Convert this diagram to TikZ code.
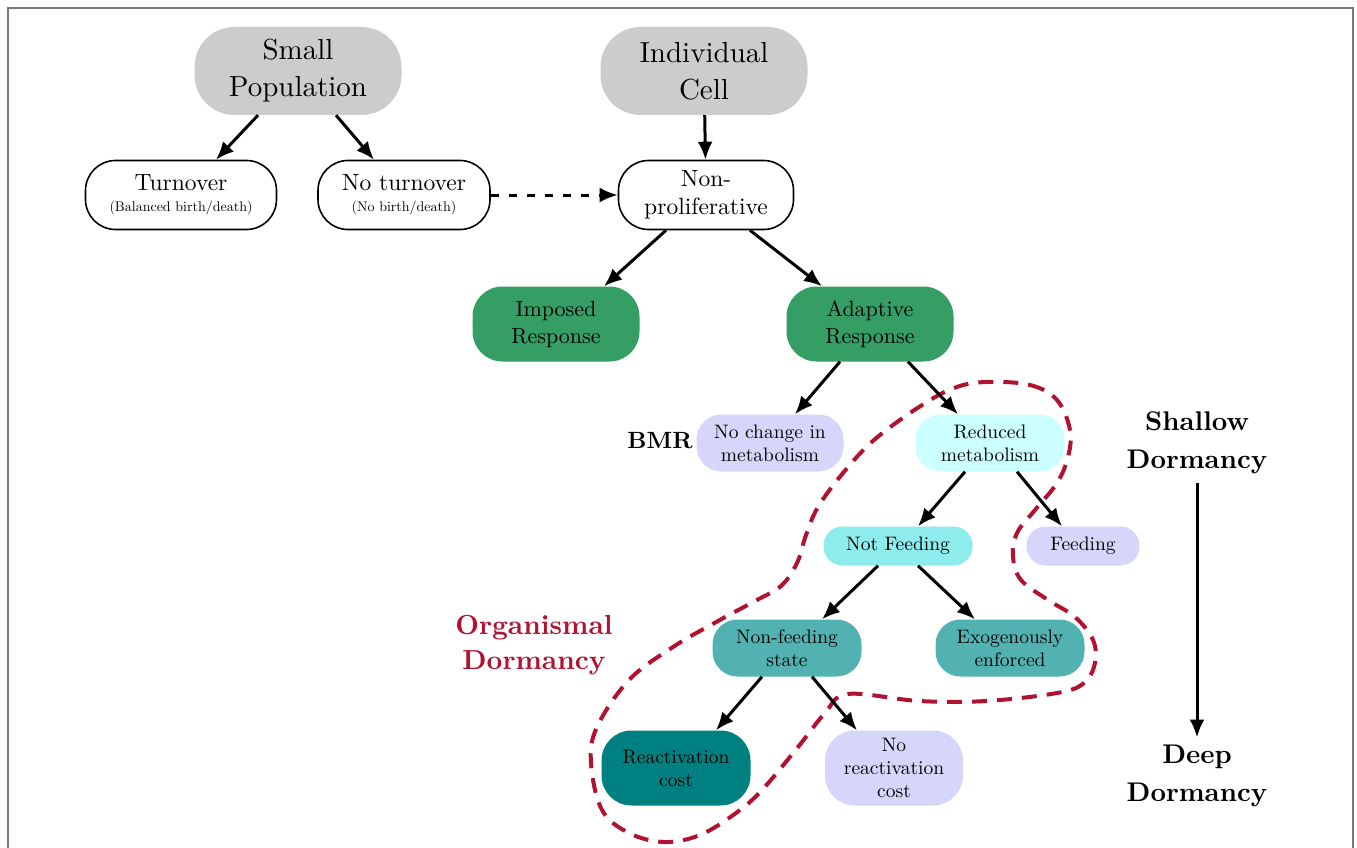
\documentclass[tikz,border=0pt]{standalone}
\usepackage{fontspec}
\setmainfont{lmroman10-regular}[Extension=.otf,BoldFont=lmroman10-bold]
\usetikzlibrary{arrows.meta}
\definecolor{popgrey}{RGB}{204,204,204}
\definecolor{respgreen}{RGB}{52,158,101}
\definecolor{lavender}{RGB}{214,214,250}
\definecolor{paleaqua}{RGB}{204,255,255}
\definecolor{aqua}{RGB}{142,236,236}
\definecolor{midteal}{RGB}{82,178,178}
\definecolor{darkteal}{RGB}{0,128,128}
\definecolor{dormred}{RGB}{176,18,48}
\definecolor{framegrey}{RGB}{120,120,120}
\begin{document}
\begin{tikzpicture}[x=1pt,y=-1pt,>={Latex[length=18pt,width=15pt]},
  popbox/.style={fill=popgrey,rounded corners=40pt,minimum width=207pt,minimum height=88pt,align=center,font=\fontsize{29}{37}\selectfont},
  linebox/.style={draw,line width=1.6pt,fill=white,rounded corners=30pt,minimum height=69pt,align=center,font=\fontsize{23.5}{28}\selectfont},
  respbox/.style={fill=respgreen,rounded corners=30pt,minimum width=167pt,minimum height=75pt,align=center,font=\fontsize{22}{27}\selectfont},
  metbox/.style={rounded corners=25pt,minimum width=147pt,minimum height=57pt,align=center,font=\fontsize{19.5}{23}\selectfont},
  lab/.style={align=center,font=\bfseries\fontsize{27}{38}\selectfont},
  arr/.style={->,line width=3pt}]
\useasboundingbox (0,0) rectangle (1357,848);
\draw[framegrey,line width=1.5pt] (8,860) -- (8,8) -- (1353,8) -- (1353,860);
\path
(298,71)   node[popbox] (sp) {Small\\Population}
(704,71)   node[popbox] (ic) {Individual\\Cell}
(181,195)  node[linebox,minimum width=191pt] (to) {Turnover\\[-7pt]{\fontsize{14}{16}\selectfont(Balanced birth/death)}}
(404,195)  node[linebox,minimum width=172pt] (nt) {No turnover\\[-7pt]{\fontsize{14}{16}\selectfont(No birth/death)}}
(706,195)  node[linebox,minimum width=175pt] (np) {Non-\\proliferative}
(556,324)  node[respbox] (imp) {Imposed\\Response}
(870,324)  node[respbox] (adp) {Adaptive\\Response}
(770,443)  node[metbox,fill=lavender] (ncm) {No change in\\metabolism}
(990,443)  node[metbox,fill=paleaqua,minimum width=149pt] (rm) {Reduced\\metabolism}
(898,546)  node[metbox,fill=aqua,minimum width=149pt,minimum height=39pt,rounded corners=19pt] (nf) {Not Feeding}
(1083,546) node[metbox,fill=lavender,minimum width=113pt,minimum height=39pt,rounded corners=19pt] (fd) {Feeding}
(787,648)  node[metbox,fill=midteal,minimum width=149pt] (nfs) {Non-feeding\\state}
(1010,648) node[metbox,fill=midteal,minimum width=149pt] (exo) {Exogenously\\enforced}
(676,768)  node[metbox,fill=darkteal,minimum width=149pt,minimum height=75pt,rounded corners=30pt] (rc) {Reactivation\\cost}
(894,768)  node[metbox,fill=lavender,minimum width=138pt,minimum height=75pt,rounded corners=30pt] (nrc) {No\\reactivation\\cost}
(660,441)  node[lab,font=\bfseries\fontsize{23.5}{28}\selectfont] (bmr) {BMR}
(534,645)  node[lab,text=dormred,font=\bfseries\fontsize{27.5}{35}\selectfont] (od) {Organismal\\Dormancy}
(1197,443) node[lab] (sd) {Shallow\\Dormancy}
(1197,776) node[lab] (dd) {Deep\\Dormancy};
% dashed outline of organismal dormancy
\draw[dormred,line width=4pt,dash pattern=on 15pt off 10pt] plot[smooth cycle,tension=0.6] coordinates {
(986,382) (1030,385) (1057,400) (1070,430) (1068,457) (1057,483) (1035,510) (1017,533)
(1013,557) (1021,580) (1048,600) (1075,617) (1093,640) (1095,663) (1084,683) (1057,693)
(986,701) (919,701) (848,694) (825,713) (798,747) (762,790) (736,813) (700,835)
(664,842) (629,833) (602,810) (591,763) (597,727) (629,680) (673,647) (718,621)
(755,601) (781,586) (797,563) (806,535) (818,507) (843,473) (874,440) (919,407) (954,388)};
\draw[arr] ([xshift=-40pt]sp.south) -- ([xshift=35pt]to.north);
\draw[arr] ([xshift=38pt]sp.south) -- ([xshift=-30pt]nt.north);
\draw[arr] (ic) -- (np);
\draw[arr,dash pattern=on 8pt off 10pt] (nt) -- (np);
\draw[arr] ([xshift=-40pt]np.south) -- ([xshift=48pt]imp.north);
\draw[arr] ([xshift=44pt]np.south) -- ([xshift=-48pt]adp.north);
\draw[arr] ([xshift=-30pt]adp.south) -- ([xshift=25pt]ncm.north);
\draw[arr] ([xshift=38pt]adp.south) -- ([xshift=-32pt]rm.north);
\draw[arr] ([xshift=-25pt]rm.south) -- ([xshift=20pt]nf.north);
\draw[arr] ([xshift=27pt]rm.south) -- ([xshift=-21pt]fd.north);
\draw[arr] ([xshift=-20pt]nf.south) -- ([xshift=35pt]nfs.north);
\draw[arr] ([xshift=20pt]nf.south) -- ([xshift=-35pt]exo.north);
\draw[arr] ([xshift=-25pt]nfs.south) -- ([xshift=40pt]rc.north);
\draw[arr] ([xshift=25pt]nfs.south) -- ([xshift=-37pt]nrc.north);
\draw[arr,shorten <=5pt,shorten >=4pt] (sd) -- (dd);
\end{tikzpicture}
\end{document}
